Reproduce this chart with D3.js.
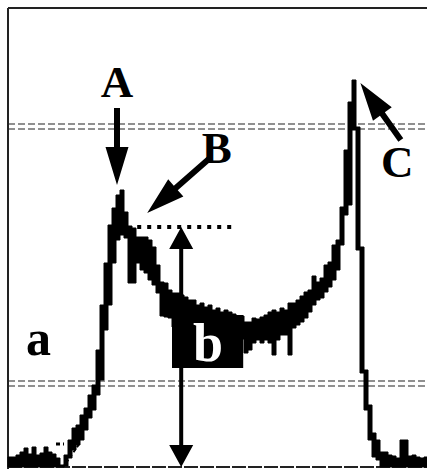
<!DOCTYPE html>
<html>
<head>
<meta charset="utf-8">
<script src="https://cdn.jsdelivr.net/npm/d3@7"></script>
<style>
  body { margin: 0; background: #fff; }
  svg { display: block; }
  .lbl { font-family: "Liberation Serif", "DejaVu Serif", serif; font-weight: bold; }
</style>
</head>
<body>
<script>
// channel counts: upper and lower edge of the thick trace
const channels = d3.range(105);
const topCounts = [
  10, 10, 12, 15, 19, 13, 20, 12, 14, 20, 15, 13, 9, 2, 12, 27, 39, 42, 52, 59,
  72, 82, 117, 162, 204, 242, 259, 272, 277, 255, 241, 239, 230, 230, 230, 227, 220, 202, 185, 184,
  177, 174, 174, 172, 170, 167, 167, 162, 164, 160, 162, 157, 159, 155, 157, 155, 153, 151, 151, 145,
  145, 149, 148, 150, 152, 155, 157, 155, 159, 157, 164, 164, 167, 171, 175, 177, 191, 185, 189, 202,
  205, 222, 227, 260, 317, 365, 387, 340, 220, 97, 62, 34, 27, 15, 15, 12, 11, 9, 27, 27,
  11, 12, 10, 9, 10
];
const bottomCounts = [
  0, 0, 0, 0, 0, 0, 0, 0, 0, 0, 0, 0, 0, 0, 1, 9, 17, 22, 27, 37,
  49, 57, 72, 87, 137, 162, 204, 227, 232, 229, 184, 184, 204, 197, 194, 187, 182, 174, 151, 150,
  149, 140, 140, 139, 138, 137, 136, 136, 135, 134, 133, 132, 132, 131, 130, 130, 130, 129, 128, 114,
  117, 124, 127, 124, 127, 124, 112, 127, 132, 132, 112, 139, 142, 145, 149, 155, 162, 167, 169, 175,
  180, 187, 197, 222, 252, 262, 337, 217, 94, 57, 27, 10, 7, 0, 0, 0, 0, 0, 0, 0,
  0, 0, 0, 0, 0
];

// reference levels (dashed pairs) and annotation anchors, in channel / count units
const dashedLevels = [343, 338, 86, 81];
const letters = [
  { t: "A", ch: 27.25, c: 370, fill: "#000", size: 45 },
  { t: "B", ch: 52.2, c: 304, fill: "#000", size: 45 },
  { t: "C", ch: 97.3, c: 290, fill: "#000", size: 45 },
  { t: "a", ch: 7.6, c: 112, fill: "#000", size: 50 },
  { t: "b", ch: 50, c: 106, fill: "#fff", size: 54 }
];
const arrows = [
  { from: [27.25, 359], to: [27.25, 282] },
  { from: [50.5, 309], to: [34.8, 254] },
  { from: [98.2, 327], to: [88.1, 384] }
];
const plateau = { ch0: 32.3, ch1: 56.3, c: 240 };
const heightArrow = { ch: 43.3, c0: 240, c1: 0 };
const boxB = { ch0: 41, ch1: 58.8, c0: 99, c1: 152 };
const onset = { from: [13.8, 0], to: [17.8, 23], dash: [12, 14.0, 23] };

const W = 427, H = 469;
const x = d3.scaleLinear().domain([0, 105]).range([8, 428]);
const y = d3.scaleLinear().domain([0, 460]).range([467, 7]);

const svg = d3.select("body").append("svg").attr("width", W).attr("height", H);

// frame: top and left edges, baseline
svg.append("line").attr("x1", x(0)).attr("x2", W).attr("y1", y(459)).attr("y2", y(459))
  .attr("stroke", "#222").attr("stroke-width", 2);
svg.append("line").attr("x1", x(0)).attr("x2", x(0)).attr("y1", y(459)).attr("y2", H)
  .attr("stroke", "#222").attr("stroke-width", 2);
svg.append("line").attr("x1", x(0)).attr("x2", W).attr("y1", y(0)).attr("y2", y(0))
  .attr("stroke", "#222").attr("stroke-width", 2).attr("stroke-dasharray", "14 2");

dashedLevels.forEach(function(c){
  svg.append("line").attr("x1", x(0)).attr("x2", W).attr("y1", y(c)).attr("y2", y(c))
    .attr("stroke", "#222").attr("stroke-width", 1.2).attr("stroke-dasharray", "7 3");
});

// the histogram trace as a stepped band
const pts = channels.map(function(i){ return { ch: i, t: topCounts[i], b: bottomCounts[i] }; });
pts.push({ ch: 105, t: topCounts[104], b: bottomCounts[104] });
const band = d3.area()
  .x(function(d){ return x(d.ch); })
  .y0(function(d){ return y(d.b); })
  .y1(function(d){ return y(d.t); })
  .curve(d3.curveStepAfter);
svg.append("path").datum(pts).attr("d", band).attr("fill", "#000")
  .attr("stroke", "#000").attr("stroke-width", 1);

// box b
svg.append("rect")
  .attr("x", x(boxB.ch0)).attr("y", y(boxB.c1))
  .attr("width", x(boxB.ch1) - x(boxB.ch0)).attr("height", y(boxB.c0) - y(boxB.c1))
  .attr("fill", "#000");

// dotted plateau line
svg.append("line")
  .attr("x1", x(plateau.ch0)).attr("x2", x(plateau.ch1))
  .attr("y1", y(plateau.c)).attr("y2", y(plateau.c))
  .attr("stroke", "#000").attr("stroke-width", 4).attr("stroke-dasharray", "4 6");

// onset tangent
svg.append("line")
  .attr("x1", x(onset.from[0])).attr("y1", y(onset.from[1]))
  .attr("x2", x(onset.to[0])).attr("y2", y(onset.to[1]))
  .attr("stroke", "#000").attr("stroke-width", 2).attr("stroke-dasharray", "3 3");
svg.append("line")
  .attr("x1", x(onset.dash[0])).attr("x2", x(onset.dash[1]))
  .attr("y1", y(onset.dash[2])).attr("y2", y(onset.dash[2]))
  .attr("stroke", "#000").attr("stroke-width", 3).attr("stroke-dasharray", "4 3");

function arrowPath(x1, y1, x2, y2, sw, hl, hw) {
  const dx = x2 - x1, dy = y2 - y1, len = Math.hypot(dx, dy);
  const ux = dx / len, uy = dy / len, nx = -uy, ny = ux;
  const bx = x2 - ux * hl, by = y2 - uy * hl;
  const p = [
    [x1 + nx * sw / 2, y1 + ny * sw / 2],
    [bx + nx * sw / 2, by + ny * sw / 2],
    [bx + nx * hw / 2, by + ny * hw / 2],
    [x2, y2],
    [bx - nx * hw / 2, by - ny * hw / 2],
    [bx - nx * sw / 2, by - ny * sw / 2],
    [x1 - nx * sw / 2, y1 - ny * sw / 2]
  ];
  return "M" + p.map(function(q){ return q.join(","); }).join("L") + "Z";
}

arrows.forEach(function(a){
  svg.append("path")
    .attr("d", arrowPath(x(a.from[0]), y(a.from[1]), x(a.to[0]), y(a.to[1]), 6, 38, 23))
    .attr("fill", "#000");
});

// double headed height arrow
const hx = x(heightArrow.ch), hy0 = y(heightArrow.c0), hy1 = y(heightArrow.c1);
const mid = (hy0 + hy1) / 2;
svg.append("path").attr("d", arrowPath(hx, mid, hx, hy0, 4, 22, 24)).attr("fill", "#000");
svg.append("path").attr("d", arrowPath(hx, mid, hx, hy1, 4, 22, 24)).attr("fill", "#000");

letters.forEach(function(l){
  svg.append("text").attr("class", "lbl")
    .attr("x", x(l.ch)).attr("y", y(l.c))
    .attr("text-anchor", "middle")
    .attr("font-size", l.size)
    .attr("fill", l.fill)
    .text(l.t);
});
</script>
</body>
</html>
